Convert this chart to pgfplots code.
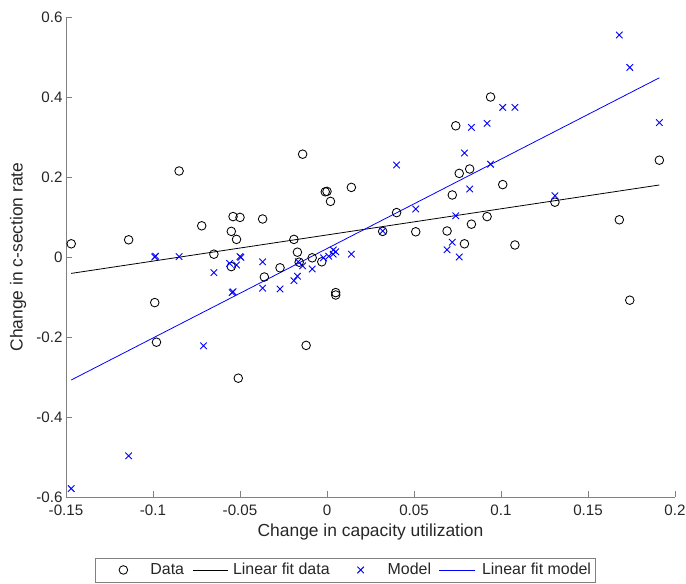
\documentclass[border=0pt]{standalone}
\usepackage{fontspec}
\setmainfont{Liberation Sans}
\usepackage{pgfplots}
\pgfplotsset{compat=1.18}

\definecolor{axgray}{gray}{0.5}
\definecolor{txtgray}{gray}{0.15}

% legend samples: a single mark, or a short line, each in a cell of given width
\pgfplotsset{
  leg mark/.style 2 args={legend image code/.code={
    \path[draw=none, fill=none] (0bp,-6bp) rectangle (#1,6bp);
    \draw[##1] plot coordinates {(#2,0bp)};}},
  leg line/.style n args={3}{legend image code/.code={
    \path[draw=none, fill=none] (0bp,-6bp) rectangle (#1,6bp);
    \draw[##1] (#2,0bp) -- (#3,0bp);}},
}

\begin{document}
\begin{tikzpicture}
% fixed frame around the axis box (origin = lower-left corner of the axis)
\useasboundingbox (-66bp,-87bp) rectangle (620bp,497bp);
\begin{axis}[
  at={(0,0)}, anchor=south west,
  width=609bp, height=480bp, scale only axis,
  xmin=-0.15, xmax=0.2, ymin=-0.6, ymax=0.6,
  axis x line*=bottom, axis y line*=left,
  axis line style={-, draw=axgray, line width=0.7bp},
  tick align=inside,
  major tick length=6bp,
  tick style={axgray, line width=0.7bp},
  xtick={-0.15,-0.1,-0.05,0,0.05,0.1,0.15,0.2},
  xticklabels={-0.15,-0.1,-0.05,0,0.05,0.1,0.15,0.2},
  ytick={-0.6,-0.4,-0.2,0,0.2,0.4,0.6},
  yticklabels={-0.6,-0.4,-0.2,0,0.2,0.4,0.6},
  ticklabel style={font=\fontsize{15.2}{18}\selectfont, text=txtgray},
  xticklabel style={yshift=-4bp},
  label style={font=\fontsize{17.5}{21}\selectfont, text=txtgray},
  xlabel={Change in capacity utilization},
  ylabel={Change in c-section rate},
  xlabel style={at={(axis description cs:0.5,-0.0729)}, anchor=center},
  ylabel style={at={(axis description cs:-0.0788,0.5)}, anchor=center},
  legend columns=4,
  legend style={at={(axis description cs:0.4585,-0.152)}, anchor=center,
    font=\fontsize{16}{19}\selectfont, text=txtgray,
    draw=axgray, line width=0.7bp, inner xsep=4.5bp, inner ysep=3bp,
    column sep=0bp, nodes={inner xsep=0bp, inner ysep=2.5bp}},
  legend cell align=left,
]
% observed changes
\addplot[only marks, mark=o, mark size=4.3bp, black, line width=0.85bp,
  leg mark={51bp}{24bp}] coordinates {
(-0.147,0.033) (-0.114,0.043) (-0.099,-0.114) (-0.098,-0.213) (-0.085,0.215)
(-0.072,0.078) (-0.065,0.007) (-0.055,0.064) (-0.054,0.101) (-0.055,-0.024)
(-0.052,0.044) (-0.050,0.099) (-0.051,-0.303) (-0.037,0.095) (-0.036,-0.050)
(-0.027,-0.027) (-0.019,0.044) (-0.017,0.012) (-0.016,-0.013) (-0.014,0.257)
(-0.012,-0.221) (-0.0085,-0.002) (-0.003,-0.012) (-0.001,0.163) (0.000,0.164)
(0.002,0.139) (0.005,-0.089) (0.005,-0.095) (0.014,0.174) (0.032,0.064)
(0.040,0.111) (0.051,0.063) (0.069,0.065) (0.072,0.155) (0.074,0.328)
(0.076,0.209) (0.079,0.033) (0.082,0.220) (0.083,0.082) (0.092,0.101)
(0.094,0.400) (0.101,0.181) (0.108,0.030) (0.131,0.137) (0.168,0.093)
(0.174,-0.108) (0.191,0.242)
};
\addlegendentry{Data}
% least-squares line through the observed changes
\addplot[black, line width=0.8bp, no marks, leg line={49bp}{9bp}{44bp}]
  coordinates {(-0.147,-0.041) (0.191,0.180)};
\addlegendentry{Linear fit data}
% simulated changes
\addplot[only marks, mark=x, mark size=4.6bp, blue, line width=0.9bp,
  leg mark={58bp}{31bp}] coordinates {
(-0.147,-0.579) (-0.114,-0.497) (-0.099,0.000) (-0.0985,0.002) (-0.085,0.001)
(-0.071,-0.222) (-0.065,-0.039) (-0.056,-0.016) (-0.052,-0.020) (-0.050,0.001)
(-0.0495,-0.001) (-0.0545,-0.089) (-0.054,-0.087) (-0.037,-0.012) (-0.037,-0.078)
(-0.027,-0.080) (-0.019,-0.059) (-0.017,-0.048) (-0.0165,-0.012) (-0.014,-0.022)
(-0.0085,-0.030) (-0.002,-0.002) (0.001,0.002) (0.0035,0.007) (0.005,0.013)
(0.0036,0.0175) (0.014,0.007) (0.032,0.065) (0.040,0.230) (0.051,0.120)
(0.069,0.018) (0.072,0.037) (0.074,0.103) (0.076,0.000) (0.079,0.260)
(0.082,0.170) (0.083,0.324) (0.092,0.334) (0.094,0.232) (0.101,0.374)
(0.108,0.374) (0.131,0.153) (0.168,0.555) (0.174,0.474) (0.191,0.336)
};
\addlegendentry{Model}
% least-squares line through the simulated changes
\addplot[blue, line width=0.8bp, no marks, leg line={51bp}{8bp}{44bp}]
  coordinates {(-0.147,-0.3075) (0.191,0.448)};
\addlegendentry{Linear fit model}
\end{axis}
\end{tikzpicture}
\end{document}
